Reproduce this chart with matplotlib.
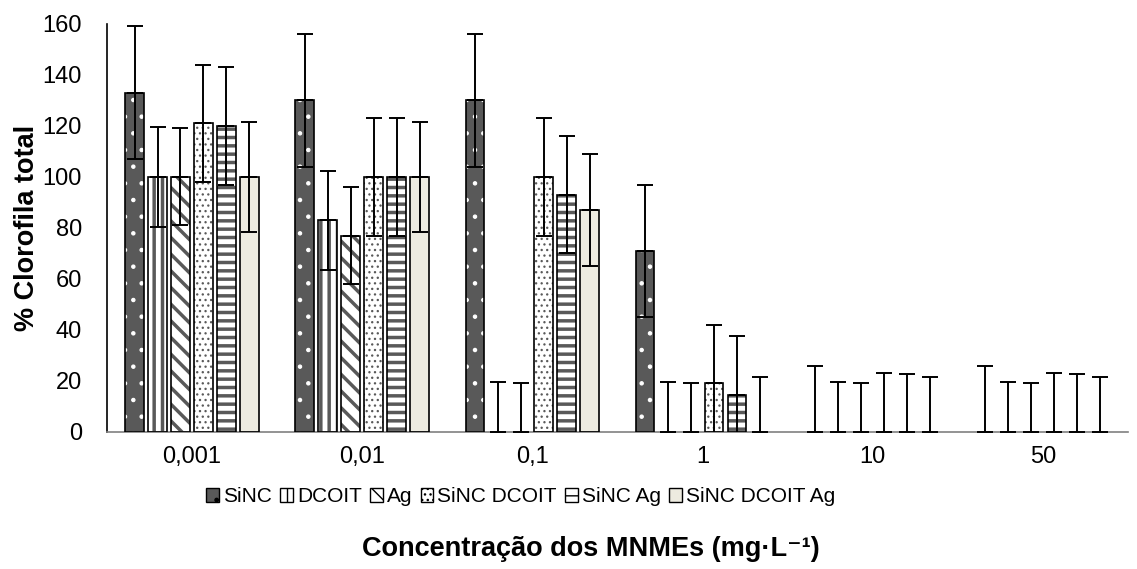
import matplotlib
matplotlib.use("Agg")
import matplotlib.pyplot as plt
import numpy as np

plt.rcParams['font.family'] = ['Liberation Sans', 'DejaVu Sans']

conc = ['0,001', '0,01', '0,1', '1', '10', '50']
series = ['SiNC', 'DCOIT', 'Ag', 'SiNC DCOIT', 'SiNC Ag', 'SiNC DCOIT Ag']

values = {
    'SiNC':          [133, 130, 130, 71, 0, 0],
    'DCOIT':         [100, 83, 0, 0, 0, 0],
    'Ag':            [100, 77, 0, 0, 0, 0],
    'SiNC DCOIT':    [121, 100, 100, 19, 0, 0],
    'SiNC Ag':       [120, 100, 93, 14.5, 0, 0],
    'SiNC DCOIT Ag': [100, 100, 87, 0, 0, 0],
}
errors = {
    'SiNC':          [26, 26, 26, 26, 26, 26],
    'DCOIT':         [19.5, 19.5, 19.5, 19.5, 19.5, 19.5],
    'Ag':            [19, 19, 19, 19, 19, 19],
    'SiNC DCOIT':    [23, 23, 23, 23, 23, 23],
    'SiNC Ag':       [23, 23, 23, 23, 22.5, 22.5],
    'SiNC DCOIT Ag': [21.5, 21.5, 22, 21.5, 21.5, 21.5],
}

# face colour, hatch colour, hatch, hatch linewidth
styles = {
    'SiNC':          ('#595959', 'white', '.', 0.8),
    'DCOIT':         ('white', '#595959', '||', 2.5),
    'Ag':            ('white', '#595959', '\\\\', 2.5),
    'SiNC DCOIT':    ('white', '#595959', '...', 0.9),
    'SiNC Ag':       ('white', '#595959', '--', 2.5),
    'SiNC DCOIT Ag': ('#EDEBE0', '#EDEBE0', '', 1.0),
}

fig = plt.figure(figsize=(11.37, 5.69), dpi=100)
ax = fig.add_axes([0.094, 0.241, 0.898, 0.717])

x = np.arange(len(conc))
pitch = 0.135
width = 0.11

for i, s in enumerate(series):
    pos = x + (i - 2.5) * pitch
    vals = np.array(values[s], dtype=float)
    err = np.array(errors[s], dtype=float)
    fc, hc, h, hlw = styles[s]
    nz = vals > 0
    with plt.rc_context({'hatch.linewidth': hlw}):
        ax.bar(pos[nz], vals[nz], width, color=fc, edgecolor=hc, hatch=h,
               linewidth=0, zorder=2)
        # legend proxy
        ax.bar([np.nan], [np.nan], width, color=fc, edgecolor='black', hatch=h,
               linewidth=1, label=s)
    ax.bar(pos[nz], vals[nz], width, fill=False, edgecolor='black',
           linewidth=1.2, zorder=3)
    # upper error bars everywhere, lower only on non-zero bars
    ax.errorbar(pos, vals, yerr=[np.zeros_like(err), err], fmt='none',
                ecolor='black', elinewidth=1.4, capsize=6, capthick=1.4, zorder=4)
    ax.errorbar(pos[nz], vals[nz], yerr=[err[nz], np.zeros(nz.sum())], fmt='none',
                ecolor='black', elinewidth=1.4, capsize=6, capthick=1.4, zorder=4)

ax.set_xlim(-0.5, len(conc) - 0.5)
ax.set_ylim(0, 160)
ax.set_yticks(np.arange(0, 161, 20))
ax.set_xticks(x)
ax.set_xticklabels(conc)
ax.tick_params(axis='both', length=0, labelsize=17)
ax.tick_params(axis='y', pad=18)
ax.tick_params(axis='x', pad=10)
for sp in ['top', 'right']:
    ax.spines[sp].set_visible(False)
ax.spines['left'].set_linewidth(1.2)
ax.spines['bottom'].set_color('#808080')
ax.spines['bottom'].set_linewidth(1.2)

ax.set_ylabel('% Clorofila total', fontsize=19.5, fontweight='bold', labelpad=2)
fig.text(0.52, 0.035, 'Concentração dos MNMEs (mg·L⁻¹)', ha='center', va='center',
         fontsize=19.5, fontweight='bold')

handles, labels = ax.get_legend_handles_labels()
fig.legend(handles, labels, loc='center', bbox_to_anchor=(0.458, 0.127), ncol=6,
           frameon=False, fontsize=15, handlelength=0.6, handleheight=0.6,
           handletextpad=0.2, columnspacing=0.4)

fig.savefig('out.png', dpi=100)
